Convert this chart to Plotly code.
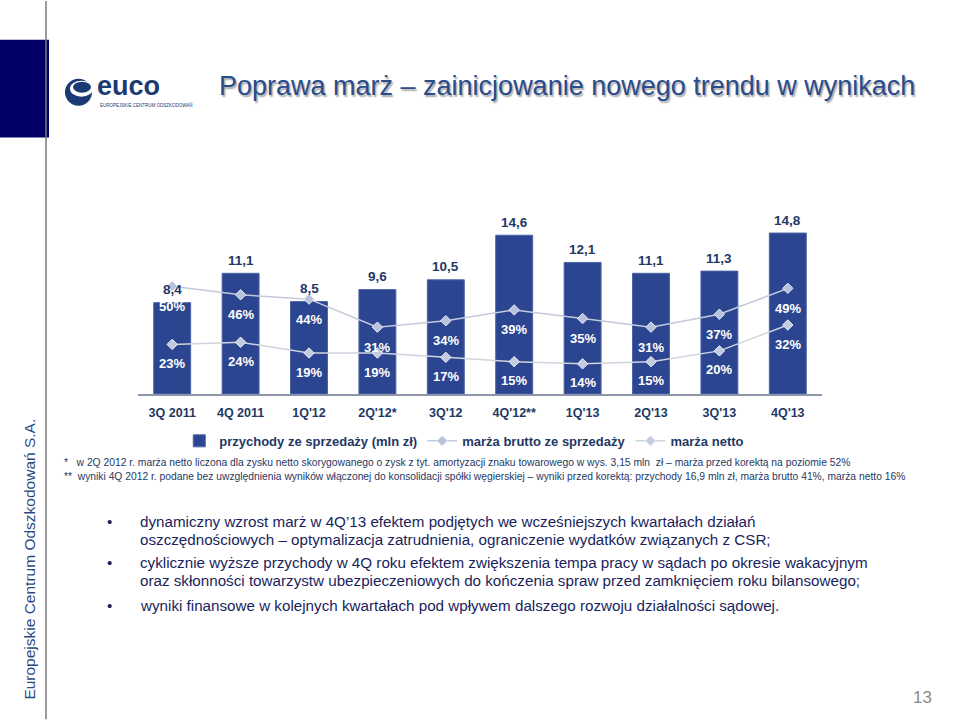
import plotly.graph_objects as go

# ---------------- data ----------------
quarters = ["3Q 2011", "4Q 2011", "1Q'12", "2Q'12*", "3Q'12", "4Q'12**", "1Q'13", "2Q'13", "3Q'13", "4Q'13"]
revenue = [8.4, 11.1, 8.5, 9.6, 10.5, 14.6, 12.1, 11.1, 11.3, 14.8]          # mln zł
gross_margin = [50, 46, 44, 31, 34, 39, 35, 31, 37, 49]                        # %
net_margin = [23, 24, 19, 19, 17, 15, 14, 15, 20, 32]                          # %

series_names = ["przychody ze sprzedaży (mln zł)", "marża brutto ze sprzedaży", "marża netto"]

title_text = "Poprawa marż – zainicjowanie nowego trendu w wynikach"
footnotes = [
    "*   w 2Q 2012 r. marża netto liczona dla zysku netto skorygowanego o zysk z tyt. amortyzacji znaku towarowego w wys. 3,15 mln  zł – marża przed korektą na poziomie 52%",
    "**  wyniki 4Q 2012 r. podane bez uwzględnienia wyników włączonej do konsolidacji spółki węgierskiej – wyniki przed korektą: przychody 16,9 mln zł, marża brutto 41%, marża netto 16%",
]
bullets = [
    ["dynamiczny wzrost marż w 4Q’13 efektem podjętych we wcześniejszych kwartałach działań",
     "oszczędnościowych – optymalizacja zatrudnienia, ograniczenie wydatków związanych z CSR;"],
    ["cyklicznie wyższe przychody w 4Q roku efektem zwiększenia tempa pracy w sądach po okresie wakacyjnym",
     "oraz skłonności towarzystw ubezpieczeniowych do kończenia spraw przed zamknięciem roku bilansowego;"],
    ["wyniki finansowe w kolejnych kwartałach pod wpływem dalszego rozwoju działalności sądowej."],
]
side_text = "Europejskie Centrum Odszkodowań S.A."
page_number = "13"

# ---------------- geometry ----------------
W, H = 960, 720
L, R = 138, 822
B, T = 394, 219.6
FONT = "Liberation Sans, Arial, sans-serif"
NAVY = "#1f3864"
BAR = "#2b4591"


def px(x, y):
    return (x - L) / (R - L), (B - y) / (B - T)


def fmt(v):
    return f"{v:.1f}".replace(".", ",")


fig = go.Figure()

fig.add_trace(go.Bar(
    x=quarters, y=revenue, name=series_names[0], width=0.54,
    marker=dict(color=BAR, line=dict(color="#4e64a6", width=1)),
))
fig.add_trace(go.Scatter(
    x=quarters, y=gross_margin, name=series_names[1], yaxis="y2",
    mode="lines+markers",
    line=dict(color="#c3cadb", width=1.5),
    marker=dict(symbol="diamond", size=8, color="#b7c2dc", line=dict(color="#e6eaf3", width=1)),
))
fig.add_trace(go.Scatter(
    x=quarters, y=net_margin, name=series_names[2], yaxis="y2",
    mode="lines+markers",
    line=dict(color="#cfd4de", width=1.5),
    marker=dict(symbol="diamond", size=8, color="#c2cbe0", line=dict(color="#eceff5", width=1)),
))

ann = []
for q, v in zip(quarters, revenue):
    ann.append(dict(x=q, y=v, xref="x", yref="y", yshift=13, text=fmt(v), showarrow=False,
                    font=dict(family=FONT, size=13.5, color=NAVY, weight="bold")))
for q, v in zip(quarters, gross_margin):
    ann.append(dict(x=q, y=v, xref="x", yref="y2", yshift=-20, text=f"{v}%", showarrow=False,
                    font=dict(family=FONT, size=13, color="white", weight="bold")))
for q, v in zip(quarters, net_margin):
    ann.append(dict(x=q, y=v, xref="x", yref="y2", yshift=-19, text=f"{v}%", showarrow=False,
                    font=dict(family=FONT, size=13, color="white", weight="bold")))


def text_at(x, y, text, size, color, anchor="left", weight="normal", angle=0, yanchor="middle", shadow=None):
    xp, yp = px(x, y)
    f = dict(family=FONT, size=size, color=color, weight=weight)
    if shadow:
        f["shadow"] = shadow
    ann.append(dict(x=xp, y=yp, xref="paper", yref="paper", text=text, showarrow=False,
                    xanchor=anchor, yanchor=yanchor, textangle=angle, font=f))


# title with shadow
text_at(217, 85, title_text, 27, "#2a4c8c", shadow="1.5px 1.5px 1.5px #a8a8a8")

# logo text
text_at(95, 85, "euco", 27, "#1b3a73", weight="bold")
text_at(98, 104, "EUROPEJSKIE CENTRUM ODSZKODOWAŃ", 4.5, "#1b3a73")

# footnotes
text_at(62, 463, footnotes[0], 10.3, NAVY)
text_at(62, 477, footnotes[1], 10.3, NAVY)

# bullets
ys = [[522, 540], [563, 581], [606]]
for lines, yy in zip(bullets, ys):
    text_at(105, yy[0], "•", 15, "#1a1f5c")
    for line, y in zip(lines, yy):
        text_at(138, y, line, 15.2, "#1a1f5c")

# side text and page number
text_at(30, 560, side_text, 15.5, "#2c4a87", anchor="center", angle=-90)
text_at(922, 698, page_number, 17, "#8a8a8a", anchor="center")

shapes = []


def rect(x0, y0, x1, y1, color, kind="rect", line_color=None, lw=0):
    a0, b0 = px(x0, y0)
    a1, b1 = px(x1, y1)
    shapes.append(dict(type=kind, xref="paper", yref="paper", x0=a0, y0=b0, x1=a1, y1=b1,
                       fillcolor=color, line=dict(width=lw, color=line_color or color), layer="below"))


# vertical divider and navy block
a0, b0 = px(46, 0)
a1, b1 = px(46, 720)
shapes.append(dict(type="line", xref="paper", yref="paper", x0=a0, y0=b0, x1=a1, y1=b1,
                   line=dict(color="#7a7a7a", width=1.5)))
rect(0, 39, 49, 137, "#000066")

# logo icon
rect(65, 78, 92, 105, "#1b3a73", kind="circle")
rect(70, 80, 93, 96, "white", kind="circle")
rect(73, 81, 91, 92, "#1b3a73", kind="circle")

fig.update_layout(
    width=W, height=H,
    margin=dict(l=L, r=W - R, t=T, b=H - B, pad=0),
    paper_bgcolor="white", plot_bgcolor="white",
    barmode="overlay",
    showlegend=True,
    legend=dict(orientation="h", x=0.477, xanchor="center", y=px(0, 441)[1], yanchor="middle",
                font=dict(family=FONT, size=13, color=NAVY, weight="bold"),
                bgcolor="rgba(0,0,0,0)", itemwidth=30, traceorder="normal"),
    xaxis=dict(type="category", showgrid=False, zeroline=False, ticks="",
               showline=True, linecolor="#8c95aa", linewidth=1.5,
               tickfont=dict(family=FONT, size=12.5, color=NAVY, weight="bold"),
               ticklabelstandoff=6,
               range=[-0.5, len(quarters) - 0.5]),
    yaxis=dict(range=[0, 16], visible=False, showgrid=False),
    yaxis2=dict(range=[0, 80.7], visible=False, showgrid=False, overlaying="y"),
    annotations=ann,
    shapes=shapes,
)

fig.write_html("out.html", config={"displayModeBar": False},
               post_script="document.body.style.margin='0';document.body.style.overflow='hidden';")
